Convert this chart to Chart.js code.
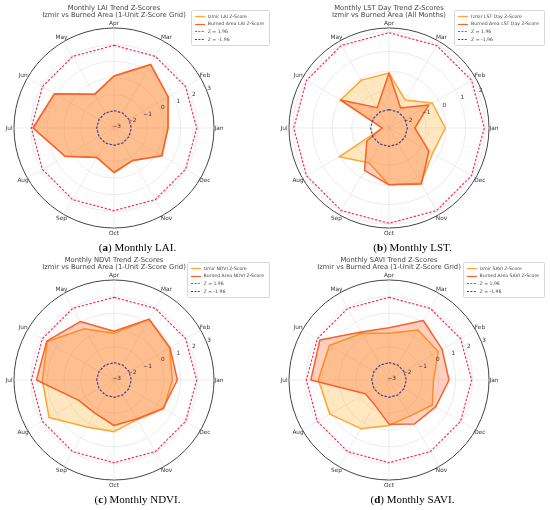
<!DOCTYPE html>
<html>
<head>
<meta charset="utf-8">
<script src="https://cdn.jsdelivr.net/npm/chart.js@4.4.0/dist/chart.umd.min.js"></script>
<style>
  html, body { margin: 0; padding: 0; background: #fff; }
  #page { position: relative; width: 550px; height: 510px; overflow: hidden; font-family: "DejaVu Sans", sans-serif; }
  .panel { position: absolute; width: 275px; height: 250px; }
  .panel .box { position: absolute; left: 0; top: 0; width: 275px; height: 250px; }
  .title { position: absolute; left: 14px; width: 200px; top: 4.6px; text-align: center; font-size: 6.8px; line-height: 7.4px; color: #444; white-space: nowrap; }
  .legend { position: absolute; right: 5px; top: 10px; border: 0.6px solid #d8d8d8; border-radius: 1.5px; padding: 1.5px 5px 1.5px 3px; background: rgba(255,255,255,0.85); font-size: 4.6px; line-height: 7.8px; color: #444; white-space: nowrap; }
  .legend .row { display: flex; align-items: center; }
  .legend svg { margin-right: 3px; }
  .caption { position: absolute; left: 0; width: 275px; top: 241px; text-align: center; font-family: "Liberation Serif", serif; font-size: 11px; line-height: 12px; color: #000; white-space: nowrap; }
</style>
</head>
<body>
<div id="page"></div>
<script>
const months = ['Jan', 'Feb', 'Mar', 'Apr', 'May', 'Jun', 'Jul', 'Aug', 'Sep', 'Oct', 'Nov', 'Dec'];
// the source plot runs counter-clockwise from east, Chart.js runs clockwise from the top
const drawOrder = [3, 2, 1, 0, 11, 10, 9, 8, 7, 6, 5, 4];

// z-scores, Jan..Dec
const laiIzmir   = [0.24, 0.75, 1.40, 0.12, -0.67, 1.12, 1.86, 0.39, -0.95, -0.33, -0.75, 0.32];
const laiBurned  = [0.24, 0.75, 1.40, 0.12, -0.67, 1.12, 1.86, 0.39, -0.95, -0.33, -0.75, 0.32];
const lstIzmir   = [-0.03, -0.35, -1.25, -0.10, -0.08, -0.05, -2.55, 0.04, -0.85, 0.00, 0.35, -0.33];
const lstBurned  = [-1.58, -0.56, -1.72, -0.10, -1.70, -0.05, -2.55, -1.60, -0.40, 0.00, 0.40, -0.55];
const ndviIzmir  = [0.50, 0.85, 1.20, -0.20, 0.55, 1.62, 1.30, 1.50, 0.25, 0.10, -0.25, 0.45];
const ndviBurned = [0.80, 0.88, 1.22, -0.07, 1.05, 1.66, 1.65, -0.56, -0.70, -0.27, -0.30, 0.40];
const saviIzmir  = [-0.33, 0.41, 0.46, -0.20, 0.24, 1.14, 1.24, 1.10, 0.37, -0.27, -0.50, 0.00];
const saviBurned = [0.60, 0.68, 1.12, 0.13, 0.33, 1.79, 1.69, -1.36, -1.28, -0.35, 0.05, 0.23];

const zHigh = 1.96;
const zLow = -1.96;

const unitTicks = [-3, -2, -1, 0, 1, 2, 3];
const lstTicks = [-2, -1, 0, 1, 2];
const unitRange = [-3, 3];
const lstRange = [-2.9, 2.2];

const izmirLine = '#ffa630';
const izmirFill = 'rgba(255,165,0,0.25)';
const burnedLine = '#f9602c';
const burnedFill = 'rgba(255,69,0,0.25)';
const redDash = '#f7325a';
const blueDash = '#3f3f98';

const panels = [
  { x: 0,   y: 0,   title: ['Monthly LAI Trend Z-Scores', 'Izmir vs Burned Area (1-Unit Z-Score Grid)'],
    names: ['Izmir LAI Z-Score', 'Burned Area LAI Z-Score'], izmir: laiIzmir, burned: laiBurned,
    ticks: unitTicks, range: unitRange, tag: 'a', caption: 'Monthly LAI.' },
  { x: 275, y: 0,   title: ['Monthly LST Day Trend Z-Scores', 'Izmir vs Burned Area (All Months)'],
    names: ['Izmir LST Day Z-Score', 'Burned Area LST Day Z-Score'], izmir: lstIzmir, burned: lstBurned,
    ticks: lstTicks, range: lstRange, tag: 'b', caption: 'Monthly LST.' },
  { x: 0,   y: 252, title: ['Monthly NDVI Trend Z-Scores', 'Izmir vs Burned Area (1-Unit Z-Score Grid)'],
    names: ['Izmir NDVI Z-Score', 'Burned Area NDVI Z-Score'], izmir: ndviIzmir, burned: ndviBurned,
    ticks: unitTicks, range: unitRange, tag: 'c', caption: 'Monthly NDVI.' },
  { x: 275, y: 252, title: ['Monthly SAVI Trend Z-Scores', 'Izmir vs Burned Area (1-Unit Z-Score Grid)'],
    names: ['Izmir SAVI Z-Score', 'Burned Area SAVI Z-Score'], izmir: saviIzmir, burned: saviBurned,
    ticks: unitTicks, range: unitRange, tag: 'd', caption: 'Monthly SAVI.' }
];

// month names round the rim and r tick labels at 22.5 degrees, like matplotlib
const radarText = {
  id: 'radarText',
  afterDatasetsDraw(chart, args, opts) {
    const scale = chart.scales.r;
    const ctx = chart.ctx;
    ctx.save();
    ctx.fillStyle = '#333';
    ctx.textAlign = 'center';
    ctx.textBaseline = 'middle';
    ctx.font = '5.8px "DejaVu Sans"';
    chart.data.labels.forEach((lab, i) => {
      const p = scale.getPointPosition(i, scale.drawingArea + 5);
      ctx.fillText(lab, p.x, p.y);
    });
    const a = 22.5 * Math.PI / 180;
    opts.ticks.forEach(v => {
      const d = scale.getDistanceFromCenterForValue(v) + 3;
      const txt = v < 0 ? '\u2212' + Math.abs(v) : String(v);
      ctx.fillText(txt, scale.xCenter + d * Math.cos(a), scale.yCenter - d * Math.sin(a));
    });
    ctx.restore();
  }
};

function sample(color, dash) {
  return '<svg width="10" height="3"><line x1="0" y1="1.5" x2="10" y2="1.5" stroke="' + color +
    '" stroke-width="1.2"' + (dash ? ' stroke-dasharray="2,1.4"' : '') + '/></svg>';
}

function buildPanel(p) {
  const page = document.getElementById('page');
  const div = document.createElement('div');
  div.className = 'panel';
  div.style.left = p.x + 'px';
  div.style.top = p.y + 'px';
  div.innerHTML =
    '<div class="box"><canvas></canvas></div>' +
    '<div class="title">' + p.title[0] + '<br>' + p.title[1] + '</div>' +
    '<div class="legend">' +
      '<div class="row">' + sample(izmirLine) + '<span>' + p.names[0] + '</span></div>' +
      '<div class="row">' + sample(burnedLine) + '<span>' + p.names[1] + '</span></div>' +
      '<div class="row">' + sample(redDash, true) + '<span>Z = 1.96</span></div>' +
      '<div class="row">' + sample(blueDash, true) + '<span>Z = -1.96</span></div>' +
    '</div>' +
    '<div class="caption">(<b>' + p.tag + '</b>) ' + p.caption + '</div>';
  page.appendChild(div);

  const pick = arr => drawOrder.map(i => arr[i]);
  const flat = v => drawOrder.map(() => v);
  const rMax = p.range[1];
  const isOuter = c => c.tick && Math.abs(c.tick.value - rMax) < 1e-6;
  const gridValues = p.ticks.filter(v => v < rMax).concat([rMax]);

  new Chart(div.querySelector('canvas'), {
    type: 'radar',
    data: {
      labels: pick(months),
      datasets: [
        { label: p.names[0], data: pick(p.izmir), borderColor: izmirLine, backgroundColor: izmirFill,
          borderWidth: 1.5, fill: 'start', order: 2 },
        { label: p.names[1], data: pick(p.burned), borderColor: burnedLine, backgroundColor: burnedFill,
          borderWidth: 1.5, fill: 'start', order: 1 },
        { label: 'Z = 1.96', data: flat(zHigh), borderColor: redDash, borderDash: [2.4, 1.6],
          borderWidth: 1.2, fill: false, order: 0 },
        { label: 'Z = -1.96', data: flat(zLow), borderColor: blueDash, borderDash: [2.4, 1.6],
          borderWidth: 1.2, fill: false, order: 0 }
      ]
    },
    options: {
      responsive: true,
      maintainAspectRatio: false,
      animation: false,
      layout: { padding: { left: 14, top: 28, right: 61, bottom: 22 } },
      elements: {
        point: { radius: 0, hoverRadius: 0 },
        line: { tension: 0, borderJoinStyle: 'round' }
      },
      plugins: {
        legend: { display: false },
        tooltip: { enabled: false },
        radarText: { ticks: p.ticks }
      },
      scales: {
        r: {
          min: p.range[0],
          max: rMax,
          startAngle: 0,
          afterBuildTicks: axis => { axis.ticks = gridValues.map(v => ({ value: v })); },
          ticks: { display: false },
          pointLabels: { display: false },
          grid: {
            circular: true,
            color: c => isOuter(c) ? '#444' : '#e4e4e4',
            lineWidth: c => isOuter(c) ? 1 : 0.7
          },
          angleLines: { color: '#e4e4e4', lineWidth: 0.7 }
        }
      }
    },
    plugins: [radarText]
  });
}

panels.forEach(buildPanel);
</script>
</body>
</html>
